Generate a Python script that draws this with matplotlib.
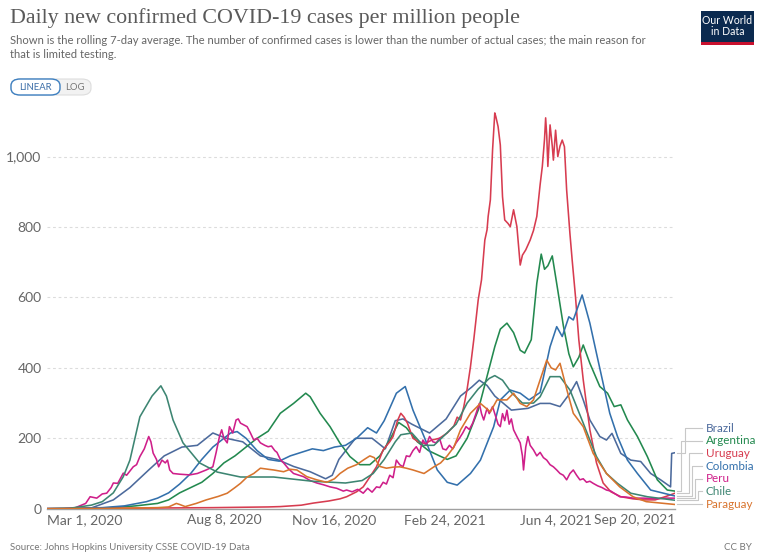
import matplotlib
matplotlib.use("Agg")
import matplotlib.pyplot as plt
import matplotlib.transforms as mtransforms
from matplotlib.patches import FancyBboxPatch, Rectangle
import numpy as np

start = np.datetime64("2020-03-01")

# days since Mar 1, 2020 and 7-day avg cases per million
brazil_days = [0, 20, 40, 60, 75, 92, 106, 122, 136, 150, 162, 177, 193, 208, 223, 238, 252, 258, 264,
               279, 294, 306, 315, 322, 330, 346, 361, 374, 384, 391, 398, 405, 420, 435, 446, 455, 464,
               473, 479, 485, 491, 500, 506, 511, 519, 528, 537, 546, 555, 564, 565, 568]
brazil_vals = [0, 0, 2, 25, 60, 110, 150, 175, 180, 215, 200, 190, 150, 140, 120, 105, 85, 95, 140,
               200, 200, 170, 250, 255, 240, 215, 255, 320, 345, 365, 350, 320, 280, 285, 299, 299, 290,
               328, 361, 309, 252, 205, 195, 214, 157, 138, 134, 100, 82, 62, 157, 159]

argentina_days = [0, 30, 60, 80, 100, 110, 120, 130, 140, 150, 160, 170, 180, 190, 200, 211, 223, 234,
                  238, 247, 256, 265, 274, 283, 292, 301, 310, 318, 325, 335, 345, 355, 362, 370, 380,
                  390, 400, 405, 410, 416, 422, 428, 432, 438, 443, 447, 450, 453, 457, 462, 467, 472,
                  476, 481, 485, 491, 500, 507, 513, 519, 525, 534, 543, 552, 561, 568]
argentina_vals = [0, 1, 3, 8, 15, 25, 45, 60, 75, 100, 130, 150, 175, 200, 220, 271, 299, 328,
                  318, 271, 233, 186, 148, 125, 125, 150, 195, 245, 230, 190, 165, 150, 140, 150, 200,
                  280, 400, 460, 510, 527, 500, 450, 442, 480, 640, 723, 680, 690, 718, 620, 520, 440,
                  403, 430, 465, 413, 347, 328, 290, 295, 252, 205, 148, 82, 53, 50]

uruguay_days = [0, 100, 150, 200, 211, 230, 241, 255, 265, 271, 280, 286, 292, 298, 304, 310, 313, 317,
                320, 323, 326, 331, 336, 342, 348, 355, 362, 368, 371, 374, 377, 380, 383, 386, 390,
                393, 396, 398, 399, 401, 403, 405, 406, 408, 410, 411, 412, 414, 417, 419, 422, 425,
                428, 430, 433, 437, 440, 443, 446, 448, 450, 451, 452, 453, 455, 457, 458, 460, 462,
                464, 466, 468, 470, 473, 475, 478, 481, 485, 491, 497, 503, 510, 519, 530, 540, 550,
                560, 568]
uruguay_vals = [0, 2, 3, 5, 6, 10, 16, 22, 28, 34, 48, 62, 90, 119, 167, 190, 205, 250,
                271, 260, 243, 200, 190, 185, 195, 200, 215, 235, 260, 252, 290, 340, 403, 480, 593,
                650, 763, 792, 830, 877, 1019, 1124, 1113, 1085, 1033, 960, 886, 820, 810, 801, 849, 801,
                692, 720, 735, 763, 790, 830, 920, 972, 1050, 1110, 1060, 972, 1090, 1030, 990, 1075, 1000,
                1030, 1047, 1028, 905, 780, 706, 602, 480, 366, 224, 130, 73, 48, 34, 28, 25, 25,
                35, 44]

colombia_days = [0, 30, 50, 70, 90, 100, 110, 120, 130, 140, 150, 160, 166, 172, 180, 190, 200, 210,
                 220, 230, 240, 250, 260, 270, 280, 290, 298, 305, 316, 324, 331, 341, 353, 362, 371,
                 383, 392, 404, 410, 419, 428, 436, 446, 455, 461, 466, 472, 476, 484, 491, 497, 503,
                 509, 516, 525, 534, 546, 568]
colombia_vals = [0, 1, 3, 8, 20, 30, 45, 70, 100, 140, 175, 200, 215, 219, 200, 165, 140, 135,
                 150, 160, 170, 165, 175, 180, 200, 230, 215, 250, 328, 347, 280, 205, 110, 75, 67,
                 100, 138, 233, 309, 337, 328, 309, 330, 460, 517, 489, 545, 536, 607, 527, 441, 356,
                 271, 205, 138, 100, 53, 36]

peru_days = [0, 15, 25, 35, 39, 45, 50, 54, 58, 60, 64, 69, 72, 78, 81, 84, 88, 92, 94, 96, 99, 101,
             104, 107, 109, 111, 114, 120, 129, 136, 144, 150, 153, 156, 158, 160, 163, 165, 168, 171,
             173, 175, 178, 181, 184, 187, 190, 193, 197, 200, 203, 206, 208, 211, 214, 218, 223, 228,
             232, 238, 244, 250, 256, 262, 268, 271, 276, 281, 286, 290, 294, 298, 301, 304, 307, 310,
             313, 316, 319, 322, 325, 328, 331, 334, 337, 340, 343, 346, 349, 352, 355, 358, 361, 364,
             367, 370, 373, 376, 379, 382, 385, 388, 391, 393, 395, 398, 400, 403, 406, 408, 410, 412,
             414, 416, 418, 420, 422, 425, 428, 430, 431, 433, 435, 437, 440, 443, 446, 449, 452, 455,
             458, 461, 464, 467, 470, 473, 476, 479, 482, 485, 488, 491, 494, 498, 502, 506, 510, 514,
             518, 524, 530, 540, 550, 560, 568]
peru_vals = [0, 0, 2, 15, 34, 30, 42, 44, 60, 73, 72, 101, 95, 119, 125, 148, 170, 205, 190, 158, 140, 119,
             138, 130, 138, 110, 100, 98, 96, 100, 110, 119, 160, 205, 224, 200, 187, 233, 215, 252,
             255, 243, 238, 233, 215, 195, 200, 187, 180, 176, 178, 165, 160, 140, 130, 115, 100, 95,
             91, 80, 73, 68, 62, 58, 50, 53, 48, 55, 44, 58, 47, 62, 60, 75, 70, 95,
             88, 138, 125, 119, 150, 148, 165, 176, 160, 195, 180, 205, 190, 187, 200, 170, 167, 180,
             170, 187, 200, 215, 233, 225, 243, 270, 299, 270, 252, 285, 270, 290, 260, 240, 233, 270,
             250, 280, 240, 255, 224, 205, 187, 150, 110, 175, 205, 180, 167, 150, 160, 145, 138, 125,
             119, 110, 100, 95, 82, 100, 110, 95, 82, 85, 75, 78, 72, 65, 60, 53, 50, 42,
             34, 33, 30, 30, 28, 30, 30]

chile_days = [0, 20, 40, 50, 60, 69, 75, 84, 95, 103, 108, 114, 123, 138, 154, 175, 205, 240, 270, 285,
              295, 305, 315, 320, 330, 340, 350, 360, 370, 380, 390, 400, 405, 412, 420, 430, 440, 446,
              455, 464, 473, 479, 485, 491, 497, 506, 516, 528, 543, 568]
chile_vals = [0, 1, 10, 20, 45, 91, 138, 261, 320, 349, 320, 252, 187, 130, 104, 90, 90, 78, 73, 80,
              100, 140, 190, 210, 215, 180, 180, 210, 240, 300, 340, 370, 378, 365, 330, 300, 300, 318,
              375, 375, 337, 290, 243, 195, 148, 100, 72, 44, 34, 24]

paraguay_days = [0, 60, 100, 110, 117, 120, 125, 135, 144, 155, 163, 170, 175, 181, 187, 193, 200, 205,
                 214, 220, 226, 235, 244, 253, 260, 265, 272, 280, 287, 292, 296, 301, 307, 313, 319,
                 325, 331, 341, 350, 356, 362, 368, 374, 383, 392, 401, 407, 416, 422, 428, 434, 440,
                 446, 452, 456, 460, 464, 470, 476, 485, 494, 506, 518, 530, 542, 568]
paraguay_vals = [0, 1, 3, 5, 15, 12, 6, 15, 25, 35, 44, 60, 72, 90, 100, 115, 112, 110,
                 105, 112, 110, 91, 82, 75, 85, 100, 115, 125, 140, 150, 145, 120, 115, 118, 119,
                 115, 110, 100, 119, 130, 150, 175, 224, 271, 299, 275, 309, 309, 328, 299, 290, 309,
                 366, 422, 400, 394, 413, 340, 271, 233, 157, 100, 62, 34, 20, 12]

countries = ["Brazil", "Argentina", "Uruguay", "Colombia", "Peru", "Chile", "Paraguay"]
series = {
    "Brazil": (brazil_days, brazil_vals),
    "Argentina": (argentina_days, argentina_vals),
    "Uruguay": (uruguay_days, uruguay_vals),
    "Colombia": (colombia_days, colombia_vals),
    "Peru": (peru_days, peru_vals),
    "Chile": (chile_days, chile_vals),
    "Paraguay": (paraguay_days, paraguay_vals),
}
colors = {
    "Brazil": "#4C6A9C",
    "Argentina": "#23894F",
    "Uruguay": "#D73C50",
    "Colombia": "#3370AC",
    "Peru": "#CF1F8A",
    "Chile": "#3D8572",
    "Paraguay": "#D8742E",
}

tick_dates = ["2020-03-01", "2020-08-08", "2020-11-16", "2021-02-24", "2021-06-04", "2021-09-20"]
tick_labels = ["Mar 1, 2020", "Aug 8, 2020", "Nov 16, 2020", "Feb 24, 2021", "Jun 4, 2021", "Sep 20, 2021"]
y_ticks = [0, 200, 400, 600, 800, 1000]

W, H = 768, 559
fig = plt.figure(figsize=(W / 100, H / 100), dpi=100)
fig.patch.set_facecolor("white")

# axes placement in pixels
left, right, top, bottom = 47, 675, 108, 508.7
ax = fig.add_axes([left / W, (H - bottom) / H, (right - left) / W, (bottom - top) / H])

for name in countries:
    d, v = series[name]
    x = start + np.array(d, dtype="timedelta64[D]")
    ax.plot(x, v, color=colors[name], lw=1.15, solid_joinstyle="round", zorder=3)

ax.set_xlim(start, np.datetime64("2021-09-20"))
ax.set_ylim(0, 1138)

ax.set_yticks(y_ticks)
ax.set_yticklabels([f"{t:,}" for t in y_ticks], color="#666666", fontsize=10, family="Lato")
ax.tick_params(axis="y", length=0, pad=4)
for t in y_ticks[1:]:
    ax.axhline(t, color="#dcdcdc", lw=0.8, ls=(0, (2.5, 2.5)), zorder=1)

xt = [np.datetime64(t) for t in tick_dates]
ax.set_xticks(xt)
ax.set_xticklabels(tick_labels, color="#666666", fontsize=10, family="Lato")
ax.tick_params(axis="x", length=0, pad=4)
labs = ax.get_xticklabels()
labs[0].set_ha("left")
labs[-1].set_ha("right")

for s in ["top", "right", "left"]:
    ax.spines[s].set_visible(False)
ax.spines["bottom"].set_color("#a0a0a0")
ax.spines["bottom"].set_linewidth(1)

# line labels with connectors
trans = mtransforms.blended_transform_factory(ax.transAxes, ax.transData)
label_x = (706 - left) / (right - left)
elbows = [685, 681, 689, 692, 695, 698, 701]
for i, name in enumerate(countries):
    d, v = series[name]
    ly = 13 + 36 * (6 - i)
    ex = (elbows[i] - left) / (right - left)
    ax.plot([1.003, ex, ex, label_x - 0.006], [v[-1], v[-1], ly, ly], color="#c8c8c8", lw=0.8,
            transform=trans, clip_on=False, zorder=2)
    ax.text(label_x, ly, name, color=colors[name], fontsize=8.4, family="Lato",
            va="center", ha="left", transform=trans)

# header
fig.text(10 / W, 1 - 8 / H, "Daily new confirmed COVID-19 cases per million people", family="Liberation Serif",
         fontsize=15.8, color="#5a5a5a", va="top", ha="left")
fig.text(10 / W, 1 - 35 / H,
         "Shown is the rolling 7-day average. The number of confirmed cases is lower than the number of actual cases; the main reason for\nthat is limited testing.",
         family="Lato", fontsize=8.1, color="#666666", va="top", ha="left", linespacing=1.3)

# LINEAR / LOG toggle
fig.patches.append(FancyBboxPatch((11 / W, 1 - 95 / H), 80 / W, 16 / H,
                                  boxstyle="round,pad=0,rounding_size=0.012", transform=fig.transFigure,
                                  fc="#f2f2f2", ec="#dddddd", lw=0.8))
fig.patches.append(FancyBboxPatch((11 / W, 1 - 95 / H), 49 / W, 16 / H,
                                  boxstyle="round,pad=0,rounding_size=0.012", transform=fig.transFigure,
                                  fc="white", ec="#3d7fc0", lw=1.0))
fig.text(35.5 / W, 1 - 87 / H, "LINEAR", fontsize=6.8, color="#3d6fa8", ha="center", va="center", family="Lato")
fig.text(75 / W, 1 - 87 / H, "LOG", fontsize=6.8, color="#777777", ha="center", va="center", family="Lato")

# logo
fig.patches.append(Rectangle((701 / W, 1 - 45 / H), 53 / W, 34 / H, transform=fig.transFigure,
                             fc="#0b2a4f", ec="none"))
fig.patches.append(Rectangle((701 / W, 1 - 45 / H), 53 / W, 3 / H, transform=fig.transFigure,
                             fc="#c8102e", ec="none"))
fig.text(727.5 / W, 1 - 26 / H, "Our World\nin Data", fontsize=7.6, color="white", ha="center", va="center",
         family="Lato", linespacing=1.0)

# footer
fig.text(10 / W, 1 - 548 / H, "Source: Johns Hopkins University CSSE COVID-19 Data", fontsize=7,
         color="#777777", family="Lato", va="center", ha="left")
fig.text(752 / W, 1 - 548 / H, "CC BY", fontsize=7, color="#777777", family="Lato", va="center", ha="right")

fig.savefig("out.png", dpi=100, facecolor="white")
